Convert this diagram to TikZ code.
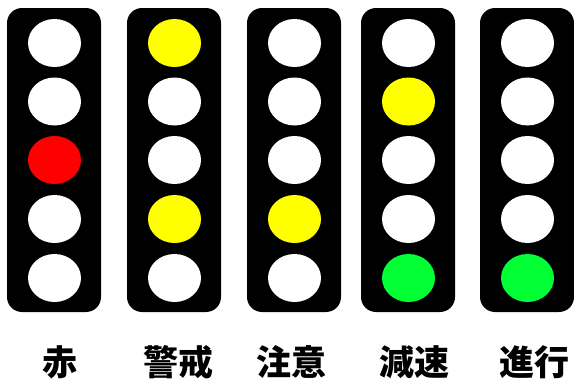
\documentclass[tikz,border=0pt]{standalone}
\usepackage{fontspec}
\newfontfamily\cjk{Noto Sans CJK JP}[BoldFont={Noto Sans CJK JP Black}]
\usetikzlibrary{shapes.geometric}
\definecolor{lampW}{HTML}{FFFFFF}
\definecolor{lampR}{HTML}{FF0000}
\definecolor{lampY}{HTML}{FFFF00}
\definecolor{lampG}{HTML}{00FF33}
\tikzset{
  head/.style={fill=black, rounded corners=15pt},
  lamp/.style={ellipse, minimum width=53pt, minimum height=48pt, inner sep=0pt, draw=none},
  lbl/.style={anchor=base, font=\cjk\bfseries\fontsize{35pt}{35pt}\selectfont, inner sep=0pt}
}
\begin{document}
\begin{tikzpicture}[x=1pt,y=-1pt]
\useasboundingbox (0,0) rectangle (574,380);
% signal heads: left x, lamp colours, label, label x
\foreach \i/\xl/\ca/\cb/\cc/\cd/\ce/\txt/\tx in {
  1/7/W/W/R/W/W/赤/60,
  2/127/Y/W/W/Y/W/警戒/178,
  3/247/W/W/W/Y/W/注意/291,
  4/361/W/Y/W/W/G/減速/414,
  5/480/W/W/W/W/G/進行/534}{
  \fill[head] (\xl,8) rectangle ++(94,304);
  \pgfmathsetmacro{\xc}{\xl+47.5}
  \node[lamp, fill=lamp\ca] (l\i a) at (\xc,43) {};
  \node[lamp, fill=lamp\cb] (l\i b) at (\xc,101.5) {};
  \node[lamp, fill=lamp\cc] (l\i c) at (\xc,160) {};
  \node[lamp, fill=lamp\cd] (l\i d) at (\xc,219) {};
  \node[lamp, fill=lamp\ce] (l\i e) at (\xc,278) {};
  \node[lbl] (t\i) at (\tx,375) {\txt};
}
\end{tikzpicture}
\end{document}
